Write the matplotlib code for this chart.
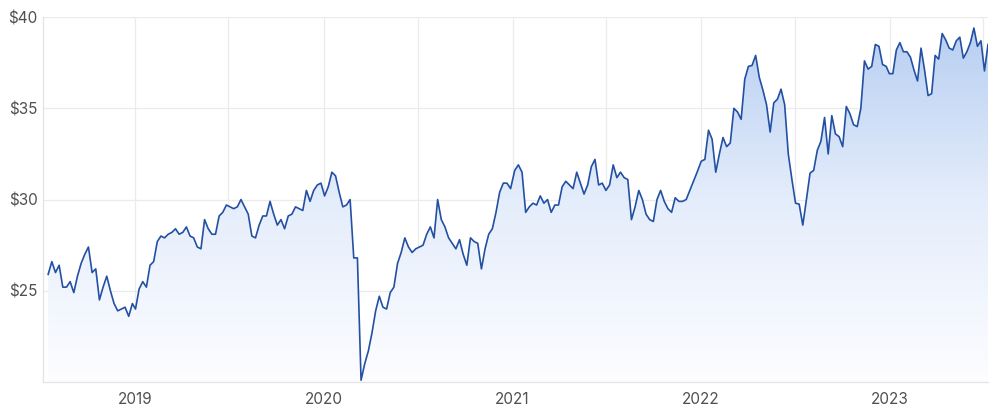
import pandas as pd
import numpy as np
import matplotlib
matplotlib.use('Agg')
import matplotlib.pyplot as plt
import matplotlib.dates as mdates
from matplotlib.colors import LinearSegmentedColormap

plt.rcParams['font.family'] = ['Inter', 'DejaVu Sans']

# weekly closing prices, one list per calendar year
p2018 = [25.9, 26.6, 26.0, 26.4, 25.2, 25.2, 25.5, 24.9, 25.8, 26.5, 27.0, 27.4,
         26.0, 26.2, 24.5, 25.2, 25.8, 25.0, 24.3, 23.9, 24.0, 24.1, 23.6, 24.3]
p2019 = [24.0, 25.1, 25.5, 25.2, 26.4, 26.6, 27.7, 28.0, 27.9, 28.1, 28.2, 28.4,
         28.1, 28.2, 28.5, 28.0, 27.9, 27.4, 27.3, 28.9, 28.4, 28.1, 28.1, 29.1,
         29.3, 29.7, 29.6, 29.5, 29.6, 30.0, 29.6, 29.2, 28.0, 27.9, 28.6, 29.1,
         29.1, 29.9, 29.2, 28.6, 28.9, 28.4, 29.1, 29.2, 29.6, 29.5, 29.4, 30.5,
         29.9, 30.5, 30.8, 30.9]
p2020 = [30.2, 30.7, 31.5, 31.3, 30.4, 29.6, 29.7, 30.0, 26.8, 26.8, 20.1, 21.0,
         21.7, 22.7, 23.9, 24.7, 24.1, 24.0, 24.9, 25.2, 26.5, 27.1, 27.9, 27.4,
         27.1, 27.3, 27.4, 27.5, 28.1, 28.5, 27.9, 30.0, 28.9, 28.5, 27.9, 27.6,
         27.3, 27.8, 27.0, 26.4, 27.9, 27.7, 27.6, 26.2, 27.3, 28.1, 28.4, 29.3,
         30.4, 30.9, 30.9, 30.6]
p2021 = [31.6, 31.9, 31.5, 29.3, 29.6, 29.8, 29.7, 30.2, 29.8, 30.0, 29.3, 29.7,
         29.7, 30.7, 31.0, 30.8, 30.6, 31.5, 30.9, 30.3, 30.8, 31.8, 32.2, 30.8,
         30.9, 30.5, 30.8, 31.9, 31.2, 31.5, 31.2, 31.1, 28.9, 29.6, 30.5, 30.0,
         29.2, 28.9, 28.8, 30.0, 30.5, 29.9, 29.5, 29.3, 30.1, 29.9, 29.9, 30.0,
         30.5, 31.0, 31.5]
p2022 = [32.1, 32.2, 33.8, 33.3, 31.5, 32.5, 33.4, 32.9, 33.1, 35.0, 34.8, 34.4,
         36.6, 37.3, 37.35, 37.9, 36.7, 36.0, 35.2, 33.7, 35.3, 35.5, 36.05, 35.2,
         32.5, 31.1, 29.8, 29.75, 28.6, 30.0, 31.45, 31.6, 32.7, 33.2, 34.5, 32.5,
         34.6, 33.6, 33.45, 32.9, 35.1, 34.7, 34.1, 34.0, 35.0, 37.6, 37.15, 37.3,
         38.5, 38.4, 37.4, 37.3]
p2023 = [36.9, 36.9, 38.2, 38.6, 38.1, 38.1, 37.8, 37.1, 36.5, 38.3, 37.1, 35.7,
         35.8, 37.9, 37.7, 39.1, 38.75, 38.3, 38.2, 38.7, 38.9, 37.75, 38.1, 38.6,
         39.4, 38.4, 38.7, 37.05, 38.5]

# first and last trading week of each yearly list
spans = [('2018-07-17', '2018-12-27'), ('2019-01-02', '2019-12-27'),
         ('2020-01-03', '2020-12-28'), ('2021-01-05', '2021-12-24'),
         ('2022-01-01', '2022-12-25'), ('2022-12-31', '2023-07-10')]
series = [p2018, p2019, p2020, p2021, p2022, p2023]

dates = []
prices = []
for (d0, d1), vals in zip(spans, series):
    dates.extend(pd.date_range(d0, d1, periods=len(vals)))
    prices.extend(vals)

y_ticks = [25, 30, 35, 40]
years = [2019, 2020, 2021, 2022, 2023]

fig = plt.figure(figsize=(10, 4.18), dpi=100)
ax = fig.add_axes([0.043, 0.0861, 0.945, 0.873])

x = mdates.date2num(pd.DatetimeIndex(dates))
ymin, ymax = 20, 40

# gradient fill under the line
poly = ax.fill_between(x, prices, ymin, color='none', lw=0)
cmap = LinearSegmentedColormap.from_list('fill', ['#fdfdff', '#e4edfb', '#b5cdf1'])
grad = np.linspace(0, 1, 256).reshape(-1, 1)
img = ax.imshow(grad, cmap=cmap, origin='lower', aspect='auto',
                extent=[x[0], x[-1], ymin, ymax], zorder=1)
img.set_clip_path(poly.get_paths()[0], transform=ax.transData)

ax.plot(x, prices, color='#2350a3', lw=1.2, zorder=3)

ax.set_xlim(mdates.date2num(pd.Timestamp('2018-07-07')), x[-1])
ax.set_ylim(ymin, ymax)

# grid
for yv in y_ticks:
    ax.axhline(yv, color='#ebebeb', lw=0.9, zorder=0)
half_years = [pd.Timestamp(f'{y}-01-01') for y in years] + \
             [pd.Timestamp(f'{y}-07-01') for y in years]
for d in half_years:
    ax.axvline(mdates.date2num(d), color='#ebebeb', lw=0.9, zorder=0)

ax.set_yticks(y_ticks)
ax.set_yticklabels([f'${v}' for v in y_ticks])
ax.set_xticks([mdates.date2num(pd.Timestamp(f'{y}-01-01')) for y in years])
ax.set_xticklabels([str(y) for y in years])
ax.tick_params(axis='both', length=0, labelsize=11, labelcolor='#505050')
ax.tick_params(axis='y', pad=4)
ax.tick_params(axis='x', pad=7)

for side in ['top', 'right']:
    ax.spines[side].set_visible(False)
for side in ['left', 'bottom']:
    ax.spines[side].set_color('#e3e3e3')
    ax.spines[side].set_linewidth(0.9)

fig.savefig('out.png', dpi=100)
